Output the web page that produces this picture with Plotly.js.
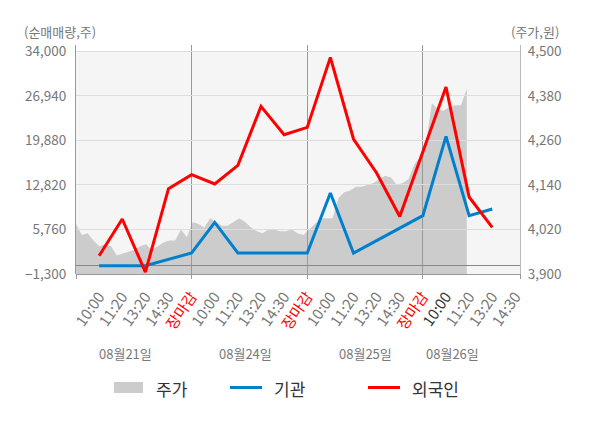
<!DOCTYPE html>
<html>
<head>
<meta charset="utf-8">
<script src="https://cdn.plot.ly/plotly-3.0.1.min.js"></script>
<style>
  html, body { margin: 0; padding: 0; background: #fff; }
  #chart { width: 600px; height: 428px; }
</style>
</head>
<body>
<div id="chart"></div>
<script>
// x축 시간 라벨 (장마감 = 하루의 끝)
var timeLabels = ['10:00','11:20','13:20','14:30','장마감',
                  '10:00','11:20','13:20','14:30','장마감',
                  '10:00','11:20','13:20','14:30','장마감',
                  '10:00','11:20','13:20','14:30'];
var dayLabels = ['08월21일','08월24일','08월25일','08월26일'];
var dayLabelPos = [1.12, 6.31, 11.5, 15.26];   // 날짜 라벨 위치 (x 인덱스)
var dayBounds = [-1, 4, 9, 14, 18.2];          // 하루 구분선
var currentIdx = 15;                           // 진하게 표시되는 라벨

// 순매매량 (주) - 시간 슬롯 0..17
var foreign = [1600, 7420, -1000, 12230, 14450, 12970, 15920, 25280, 20790,
               21950, 33050, 20110, 14720, 7830, null, 28360, 10910, 6090];
var inst    = [0, 0, 0, null, 2030, 6880, 2030, 2030, 2030,
               2030, 11550, 2030, null, null, 7950, 20520, 7950, 9010];

// 주가 (원) - 장중 흐름
var price = [4035, 4005, 4010, 3990, 3975, 3980, 3975, 3950, 3955, 3960,
             3965, 3975, 3980, 3965, 3975, 3985, 3990, 3990, 4020, 4000,
             4040, 4035, 4025, 4050, 4040, 4030, 4030, 4040, 4050, 4040,
             4025, 4015, 4010, 4020, 4020, 4015, 4015, 4020, 4010, 4005,
             4020, 4035, 4050, 4050, 4050, 4105, 4120, 4125, 4135, 4135,
             4140, 4145, 4155, 4165, 4160, 4140, 4145, 4155, 4195, 4215,
             4250, 4360, 4345, 4340, 4350, 4355, 4355, 4400];
var priceStart = -1, priceEnd = 15.9;

var volTicks = [-1300, 5760, 12820, 19880, 26940, 34000];
var priceTicks = [3900, 4020, 4140, 4260, 4380, 4500];

var FONT = 'Noto Sans CJK KR';

var slotIdx = foreign.map(function(v, i) { return i; });
var tickIdx = timeLabels.map(function(v, i) { return i; });
var tickText = timeLabels.map(function(t, i) {
  if (t === '장마감') return '<span style="color:#ff0000">' + t + '</span>';
  if (i === currentIdx) return '<span style="color:#333333">' + t + '</span>';
  return t;
});
var priceX = price.map(function(v, i) {
  return priceStart + i * (priceEnd - priceStart) / (price.length - 1);
});

var traces = [
  {
    name: '주가', x: priceX, y: price, xaxis: 'x', yaxis: 'y',
    type: 'scatter', mode: 'lines', fill: 'tozeroy',
    fillcolor: '#cccccc', line: {width: 0, color: '#cccccc'}
  },
  {
    name: '기관', x: slotIdx, y: inst, xaxis: 'x2', yaxis: 'y2',
    type: 'scatter', mode: 'lines', connectgaps: true,
    line: {color: '#0080cc', width: 3}
  },
  {
    name: '외국인', x: slotIdx, y: foreign, xaxis: 'x2', yaxis: 'y2',
    type: 'scatter', mode: 'lines', connectgaps: true,
    line: {color: '#ff0000', width: 3}
  }
];

// paper 좌표 변환 (플롯 영역 76..520, 45..274 px)
function px(x) { return (x - 76) / 444; }
function py(y) { return (274 - y) / 229; }

var annotations = [
  {text: '(순매매량,주)', xref: 'paper', yref: 'paper', x: px(22), y: py(32),
   xanchor: 'left', yanchor: 'middle', showarrow: false,
   font: {family: FONT, size: 13, color: '#777'}},
  {text: '(주가,원)', xref: 'paper', yref: 'paper', x: px(561), y: py(32),
   xanchor: 'right', yanchor: 'middle', showarrow: false,
   font: {family: FONT, size: 13, color: '#777'}}
];
dayLabels.forEach(function(d, i) {
  annotations.push({text: d, xref: 'x2', yref: 'paper', x: dayLabelPos[i], y: py(353),
    xanchor: 'center', yanchor: 'middle', showarrow: false,
    font: {family: FONT, size: 13, color: '#777'}});
});

// 범례
var legendItems = [
  {name: '주가', kind: 'rect', color: '#cccccc', x0: 114, x1: 143, tx: 154},
  {name: '기관', kind: 'line', color: '#0080cc', x0: 230, x1: 262, tx: 272},
  {name: '외국인', kind: 'line', color: '#ff0000', x0: 368, x1: 400, tx: 410}
];
var shapes = [
  {type: 'rect', xref: 'x', yref: 'y', x0: -1, x1: 18.2, y0: 3900, y1: 4500,
   fillcolor: '#f5f5f5', line: {width: 0}, layer: 'below'}
];
legendItems.forEach(function(it) {
  if (it.kind === 'rect') {
    shapes.push({type: 'rect', xref: 'paper', yref: 'paper',
      x0: px(it.x0), x1: px(it.x1), y0: py(393), y1: py(382),
      fillcolor: it.color, line: {width: 0}});
  } else {
    shapes.push({type: 'line', xref: 'paper', yref: 'paper',
      x0: px(it.x0), x1: px(it.x1), y0: py(387.5), y1: py(387.5),
      line: {color: it.color, width: 3}});
  }
  annotations.push({text: it.name, xref: 'paper', yref: 'paper', x: px(it.tx), y: py(388),
    xanchor: 'left', yanchor: 'middle', showarrow: false,
    font: {family: FONT, size: 17, color: '#333'}});
});

var layout = {
  width: 600, height: 428,
  margin: {l: 76, r: 80, t: 45, b: 154},
  paper_bgcolor: '#ffffff', plot_bgcolor: 'rgba(0,0,0,0)',
  font: {family: FONT, size: 13.5, color: '#777'},
  showlegend: false,
  xaxis: {
    domain: [0, 1], anchor: 'y', range: [-1, 18.2],
    tickmode: 'array', tickvals: tickIdx, ticktext: tickText, tickangle: -55,
    tickfont: {family: FONT, size: 15, color: '#777'},
    ticks: 'outside', ticklen: 7, tickcolor: 'rgba(0,0,0,0)',
    showgrid: false, zeroline: false, showline: true, linecolor: '#999'
  },
  yaxis: {
    domain: [0, 1], anchor: 'x', side: 'right', range: [3900, 4517],
    tickmode: 'array', tickvals: priceTicks, tickformat: ',',
    ticks: 'outside', ticklen: 4, tickcolor: 'rgba(0,0,0,0)',
    showgrid: false, zeroline: false, showline: true, linecolor: '#bbb'
  },
  xaxis2: {
    domain: [0, 1], anchor: 'y2', range: [-1, 18.2],
    tickmode: 'array', tickvals: dayBounds, showticklabels: false,
    ticks: 'outside', ticklen: 4, tickcolor: '#999',
    showgrid: true, gridcolor: '#999', zeroline: false, showline: false
  },
  yaxis2: {
    domain: [0, 1], anchor: 'x2', side: 'left', range: [-1300, 35015],
    tickmode: 'array', tickvals: volTicks, tickformat: ',',
    ticks: 'outside', ticklen: 6, tickcolor: 'rgba(0,0,0,0)',
    showgrid: true, gridcolor: '#dddddd',
    zeroline: true, zerolinecolor: '#888', zerolinewidth: 1,
    showline: true, linecolor: '#999'
  },
  shapes: shapes,
  annotations: annotations
};

Plotly.newPlot('chart', traces, layout, {staticPlot: true, displayModeBar: false});
</script>
</body>
</html>
